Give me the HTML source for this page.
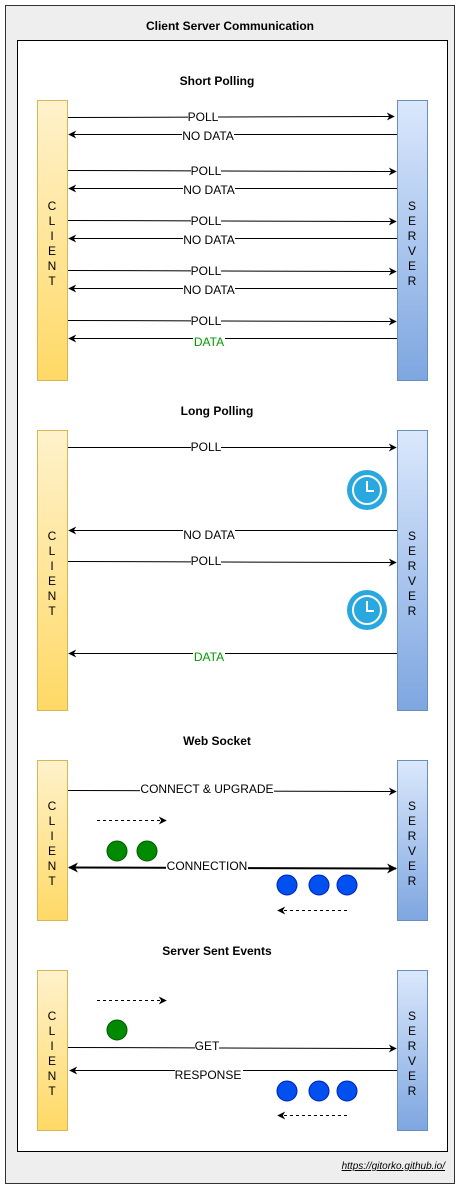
<!DOCTYPE html>
<html><head><meta charset="utf-8"><style>
html,body{margin:0;padding:0;background:#fff;}
svg{display:block;font-family:"Liberation Sans",Arial,sans-serif;}
</style></head><body>
<svg width="461" height="1191" viewBox="0 0 461 1191" xmlns="http://www.w3.org/2000/svg">
<defs>
<linearGradient id="gy" x1="0" y1="0" x2="0" y2="1"><stop offset="0" stop-color="#fff2cc"/><stop offset="1" stop-color="#ffd966"/></linearGradient>
<linearGradient id="gb" x1="0" y1="0" x2="0" y2="1"><stop offset="0" stop-color="#dae8fc"/><stop offset="1" stop-color="#7ea6e0"/></linearGradient>
<marker id="ar" viewBox="0 0 10 10" refX="9" refY="5" markerWidth="8" markerHeight="8" orient="auto-start-reverse" markerUnits="userSpaceOnUse"><path d="M0,0 L10,5 L0,10 L3,5 z" fill="#000"/></marker>
<marker id="ar2" viewBox="0 0 10 10" refX="9" refY="5" markerWidth="10" markerHeight="10" orient="auto-start-reverse" markerUnits="userSpaceOnUse"><path d="M0,0 L10,5 L0,10 L3,5 z" fill="#000"/></marker>
</defs>
<rect x="5.5" y="5.5" width="449" height="1178" fill="#eeeeee" stroke="#333" stroke-width="1"/>
<text x="230" y="30" font-size="12" font-weight="bold" text-anchor="middle">Client Server Communication</text>
<rect x="17.5" y="40.5" width="430" height="1111" fill="#fff" stroke="#000" stroke-width="1"/>
<text x="445" y="1169" font-size="10" font-style="italic" text-anchor="end" text-decoration="underline">https://gitorko.github.io/</text>

<g font-size="12" font-weight="bold" text-anchor="middle">
<text x="217" y="85">Short Polling</text>
<text x="217" y="415">Long Polling</text>
<text x="217" y="745">Web Socket</text>
<text x="217" y="955">Server Sent Events</text>
</g>

<g stroke-width="1">
<rect x="37.5" y="100.5" width="30" height="280" fill="url(#gy)" stroke="#d6b656"/>
<rect x="397.5" y="100.5" width="30" height="280" fill="url(#gb)" stroke="#6c8ebf"/>
<rect x="37.5" y="430.5" width="30" height="280" fill="url(#gy)" stroke="#d6b656"/>
<rect x="397.5" y="430.5" width="30" height="280" fill="url(#gb)" stroke="#6c8ebf"/>
<rect x="37.5" y="760.5" width="30" height="160" fill="url(#gy)" stroke="#d6b656"/>
<rect x="397.5" y="760.5" width="30" height="160" fill="url(#gb)" stroke="#6c8ebf"/>
<rect x="37.5" y="970.5" width="30" height="160" fill="url(#gy)" stroke="#d6b656"/>
<rect x="397.5" y="970.5" width="30" height="160" fill="url(#gb)" stroke="#6c8ebf"/>
</g>

<g font-size="12" text-anchor="middle">
<text x="52" y="210">C</text><text x="52" y="225">L</text><text x="52" y="240">I</text><text x="52" y="255">E</text><text x="52" y="270">N</text><text x="52" y="285">T</text>
<text x="412" y="210">S</text><text x="412" y="225">E</text><text x="412" y="240">R</text><text x="412" y="255">V</text><text x="412" y="270">E</text><text x="412" y="285">R</text>
<text x="52" y="540">C</text><text x="52" y="555">L</text><text x="52" y="570">I</text><text x="52" y="585">E</text><text x="52" y="600">N</text><text x="52" y="615">T</text>
<text x="412" y="540">S</text><text x="412" y="555">E</text><text x="412" y="570">R</text><text x="412" y="585">V</text><text x="412" y="600">E</text><text x="412" y="615">R</text>
<text x="52" y="810">C</text><text x="52" y="825">L</text><text x="52" y="840">I</text><text x="52" y="855">E</text><text x="52" y="870">N</text><text x="52" y="885">T</text>
<text x="412" y="810">S</text><text x="412" y="825">E</text><text x="412" y="840">R</text><text x="412" y="855">V</text><text x="412" y="870">E</text><text x="412" y="885">R</text>
<text x="52" y="1020">C</text><text x="52" y="1035">L</text><text x="52" y="1050">I</text><text x="52" y="1065">E</text><text x="52" y="1080">N</text><text x="52" y="1095">T</text>
<text x="412" y="1020">S</text><text x="412" y="1035">E</text><text x="412" y="1050">R</text><text x="412" y="1065">V</text><text x="412" y="1080">E</text><text x="412" y="1095">R</text>
</g>

<g stroke="#000" stroke-width="1" fill="none">
<line x1="68" y1="117.5" x2="394" y2="116.5" marker-end="url(#ar)"/>
<line x1="397" y1="134.5" x2="69" y2="134.5" marker-end="url(#ar)"/>
<line x1="68" y1="170.5" x2="396" y2="171.5" marker-end="url(#ar)"/>
<line x1="397" y1="188.5" x2="69" y2="188.5" marker-end="url(#ar)"/>
<line x1="68" y1="220.5" x2="396" y2="221.5" marker-end="url(#ar)"/>
<line x1="397" y1="238.5" x2="69" y2="238.5" marker-end="url(#ar)"/>
<line x1="68" y1="270.5" x2="396" y2="271.5" marker-end="url(#ar)"/>
<line x1="397" y1="288.5" x2="69" y2="288.5" marker-end="url(#ar)"/>
<line x1="68" y1="320.5" x2="396" y2="321.5" marker-end="url(#ar)"/>
<line x1="397" y1="338.5" x2="69" y2="338.5" marker-end="url(#ar)"/>

<line x1="68" y1="447.5" x2="396" y2="447.5" marker-end="url(#ar)"/>
<line x1="397" y1="530.5" x2="69" y2="530.5" marker-end="url(#ar)"/>
<line x1="68" y1="561.5" x2="396" y2="562.5" marker-end="url(#ar)"/>
<line x1="397" y1="653.5" x2="69" y2="653.5" marker-end="url(#ar)"/>

<line x1="68" y1="790.5" x2="396" y2="791.5" marker-end="url(#ar)"/>
<line x1="97" y1="820.5" x2="166" y2="820.5" stroke-dasharray="3,3" marker-end="url(#ar)"/>
<line x1="69" y1="867.5" x2="396" y2="868.5" stroke-width="2" marker-start="url(#ar2)" marker-end="url(#ar2)"/>
<line x1="347" y1="910.5" x2="278" y2="910.5" stroke-dasharray="3,3" marker-end="url(#ar)"/>

<line x1="97" y1="1000.5" x2="166" y2="1000.5" stroke-dasharray="3,3" marker-end="url(#ar)"/>
<line x1="68" y1="1047.5" x2="396" y2="1048.5" marker-end="url(#ar)"/>
<line x1="397" y1="1070.5" x2="70" y2="1070.5" marker-end="url(#ar)"/>
<line x1="347" y1="1115.5" x2="278" y2="1115.5" stroke-dasharray="3,3" marker-end="url(#ar)"/>
</g>

<g font-size="12" text-anchor="middle">
<g fill="#fff">
<rect x="188" y="110" width="30" height="12"/><rect x="182" y="129" width="52" height="12"/>
<rect x="191" y="164" width="30" height="12"/><rect x="183" y="183" width="52" height="12"/>
<rect x="191" y="214" width="30" height="12"/><rect x="183" y="233" width="52" height="12"/>
<rect x="191" y="264" width="30" height="12"/><rect x="183" y="283" width="52" height="12"/>
<rect x="191" y="314" width="30" height="12"/><rect x="193" y="333" width="32" height="12"/>
<rect x="191" y="441" width="30" height="12"/><rect x="183" y="524" width="52" height="12"/>
<rect x="191" y="555" width="30" height="12"/><rect x="193" y="648" width="32" height="12"/>
<rect x="140" y="784" width="134" height="12"/><rect x="166" y="861" width="82" height="12"/>
<rect x="195" y="1041" width="24" height="12"/><rect x="175" y="1065" width="68" height="12"/>
</g>
<text x="203" y="121">POLL</text><text x="208" y="140">NO DATA</text>
<text x="206" y="175">POLL</text><text x="209" y="194">NO DATA</text>
<text x="206" y="225">POLL</text><text x="209" y="244">NO DATA</text>
<text x="206" y="275">POLL</text><text x="209" y="294">NO DATA</text>
<text x="206" y="325">POLL</text><text x="209" y="346" fill="#009900">DATA</text>
<text x="206" y="451">POLL</text><text x="209" y="539">NO DATA</text>
<text x="206" y="565">POLL</text><text x="209" y="661" fill="#009900">DATA</text>
<text x="207" y="793">CONNECT &amp; UPGRADE</text>
<text x="207" y="870">CONNECTION</text>
<text x="207" y="1050">GET</text>
<text x="208" y="1079">RESPONSE</text>
</g>

<g>
<circle cx="367" cy="490" r="20" fill="#29a8e0"/><circle cx="367" cy="490" r="14" fill="none" stroke="#fff" stroke-width="2"/><path d="M367,481 V491 H374" stroke="#fff" stroke-width="2" fill="none"/>
<circle cx="367" cy="610" r="20" fill="#29a8e0"/><circle cx="367" cy="610" r="14" fill="none" stroke="#fff" stroke-width="2"/><path d="M367,601 V611 H374" stroke="#fff" stroke-width="2" fill="none"/>
</g>

<g stroke-width="1">
<circle cx="117" cy="851" r="10" fill="#008a00" stroke="#005700"/>
<circle cx="147" cy="851" r="10" fill="#008a00" stroke="#005700"/>
<circle cx="287" cy="885" r="10" fill="#0050ef" stroke="#001dbc"/>
<circle cx="319" cy="885" r="10" fill="#0050ef" stroke="#001dbc"/>
<circle cx="347" cy="885" r="10" fill="#0050ef" stroke="#001dbc"/>
<circle cx="117" cy="1030" r="10" fill="#008a00" stroke="#005700"/>
<circle cx="287" cy="1091" r="10" fill="#0050ef" stroke="#001dbc"/>
<circle cx="319" cy="1091" r="10" fill="#0050ef" stroke="#001dbc"/>
<circle cx="347" cy="1091" r="10" fill="#0050ef" stroke="#001dbc"/>
</g>
</svg>
</body></html>
